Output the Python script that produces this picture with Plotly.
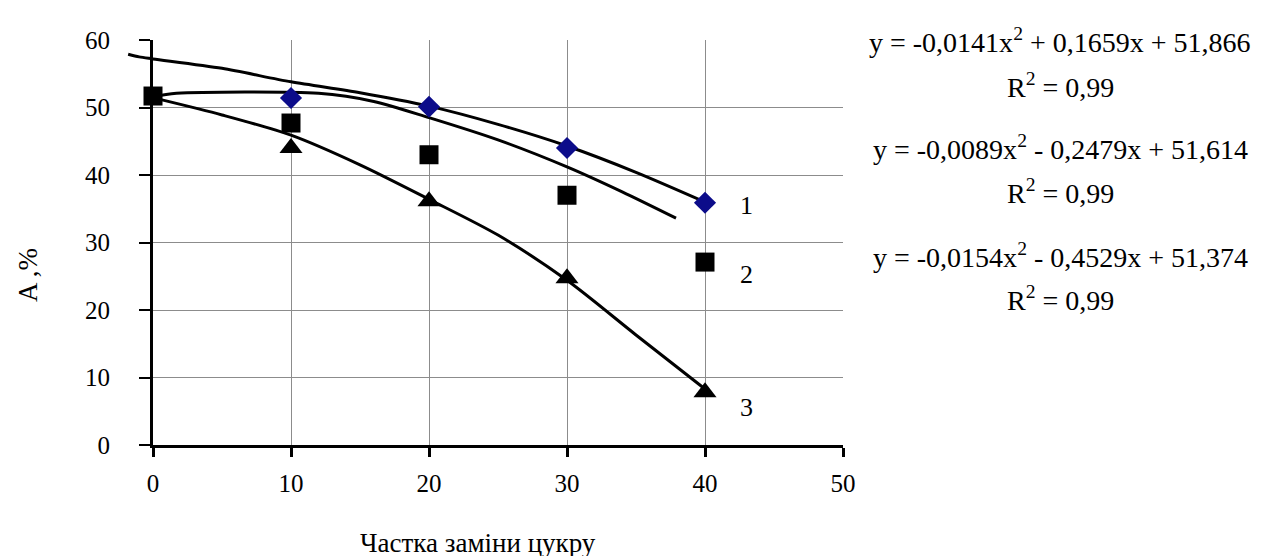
import plotly.graph_objects as go

# measured points
s1_x = [10, 20, 30, 40]
s1_y = [51.4, 50.1, 44.0, 35.9]
s2_x = [0, 10, 20, 30, 40]
s2_y = [51.7, 47.7, 43.0, 37.0, 27.1]
s3_x = [10, 20, 30, 40]
s3_y = [44.0, 36.1, 24.7, 7.8]

# trend curves
c1_x = [-1.8, -1.0, 0, 5, 10, 15, 20, 25, 30, 35, 40]
c1_y = [57.9, 57.5, 57.2, 55.8, 53.8, 52.2, 50.2, 47.5, 44.3, 40.4, 36.0]
c2_x = [0, 1.7, 12, 16, 20, 25, 30, 34, 37.9]
c2_y = [51.6, 52.1, 52.1, 50.9, 48.5, 45.2, 41.2, 37.5, 33.6]
c3_x = [0.5, 5, 10, 15, 20, 25, 30, 35, 40]
c3_y = [51.2, 48.9, 45.9, 41.5, 36.4, 31.1, 24.4, 16.3, 8.3]

x_ticks = [0, 10, 20, 30, 40, 50]
y_ticks = [0, 10, 20, 30, 40, 50, 60]

equations = [
    "y = -0,0141x<sup>2</sup> + 0,1659x + 51,866",
    "R<sup>2</sup> = 0,99",
    "y = -0,0089x<sup>2</sup> - 0,2479x + 51,614",
    "R<sup>2</sup> = 0,99",
    "y = -0,0154x<sup>2</sup> - 0,4529x + 51,374",
    "R<sup>2</sup> = 0,99",
]
eq_y_px = [32, 77, 140, 183, 247, 290]
curve_labels = ["1", "2", "3"]
curve_label_y = [35.5, 25.3, 5.5]

FONT = "Liberation Serif"
W, H = 1261, 556
ml, mr, mt, mb = 115, 426, 32, 119
PW, PH = W - ml - mr, H - mt - mb
axis_left_px = 145
d0 = (axis_left_px - ml) / PW
x2_min = -(50 * d0 / (1 - d0))


def px_x(p):
    return (p - ml) / PW


def px_y(p):
    return 1 - (p - mt) / PH


fig = go.Figure()
# empty trace so the gridded axes subplot (x, y) exists
fig.add_trace(go.Scatter(x=[], y=[], mode="markers", showlegend=False, hoverinfo="skip"))

for cx, cy in [(c1_x, c1_y), (c2_x, c2_y), (c3_x, c3_y)]:
    fig.add_trace(go.Scatter(x=cx, y=cy, mode="lines", xaxis="x2", yaxis="y2",
                             line=dict(color="black", width=3, shape="spline", smoothing=0.8),
                             hoverinfo="skip", showlegend=False))

fig.add_trace(go.Scatter(x=s1_x, y=s1_y, mode="markers", cliponaxis=False,
                         xaxis="x2", yaxis="y2",
                         marker=dict(symbol="diamond", size=17, color="#0c0c8a"),
                         showlegend=False))
fig.add_trace(go.Scatter(x=s3_x, y=s3_y, mode="markers", cliponaxis=False,
                         xaxis="x2", yaxis="y2",
                         marker=dict(symbol="triangle-up", size=20, color="black"),
                         showlegend=False))
fig.add_trace(go.Scatter(x=s2_x, y=s2_y, mode="markers", cliponaxis=False,
                         xaxis="x2", yaxis="y2",
                         marker=dict(symbol="square", size=19, color="black"),
                         showlegend=False))

annotations = []
for txt, ypx in zip(equations, eq_y_px):
    annotations.append(dict(text=txt, xref="paper", yref="paper",
                            x=px_x(1052), y=px_y(ypx),
                            xanchor="center", yanchor="middle", showarrow=False,
                            font=dict(family=FONT, size=28, color="black")))
for lab, ly in zip(curve_labels, curve_label_y):
    annotations.append(dict(text=lab, x=43, y=ly, xref="x", yref="y",
                            xanchor="center", yanchor="middle", showarrow=False,
                            font=dict(family=FONT, size=26, color="black")))
annotations.append(dict(text="Частка заміни цукру", xref="paper", yref="paper",
                        x=px_x(470), y=px_y(535),
                        xanchor="center", yanchor="middle", showarrow=False,
                        font=dict(family=FONT, size=27, color="black")))
annotations.append(dict(text="A ,%", xref="paper", yref="paper",
                        x=px_x(20), y=px_y(267),
                        xanchor="center", yanchor="middle", showarrow=False, textangle=-90,
                        font=dict(family=FONT, size=27, color="black")))

fig.update_layout(
    width=W, height=H,
    margin=dict(l=ml, r=mr, t=mt, b=mb),
    paper_bgcolor="white", plot_bgcolor="rgba(0,0,0,0)",
    font=dict(family=FONT, size=24, color="black"),
    annotations=annotations,
    xaxis=dict(domain=[d0, 1], range=[0, 50], tickvals=x_ticks, showgrid=True,
               gridcolor="#8c8c8c", gridwidth=1, zeroline=False,
               showline=True, linecolor="black", linewidth=3,
               ticks="outside", ticklen=9, tickwidth=3, tickcolor="black",
               ticklabelstandoff=5, tickfont=dict(family=FONT, size=25)),
    yaxis=dict(range=[0, 60], tickvals=y_ticks, showgrid=True, anchor="x",
               gridcolor="#8c8c8c", gridwidth=1, zeroline=False,
               showline=True, linecolor="black", linewidth=3,
               ticks="outside", ticklen=11, tickwidth=2, tickcolor="black",
               ticklabelstandoff=24, tickfont=dict(family=FONT, size=25)),
    xaxis2=dict(domain=[0, 1], range=[x2_min, 50], anchor="y2", visible=False,
                showgrid=False, zeroline=False),
    yaxis2=dict(domain=[0, 1], range=[0, 60], anchor="x2", visible=False,
                showgrid=False, zeroline=False),
)

fig.write_html("out.html")
